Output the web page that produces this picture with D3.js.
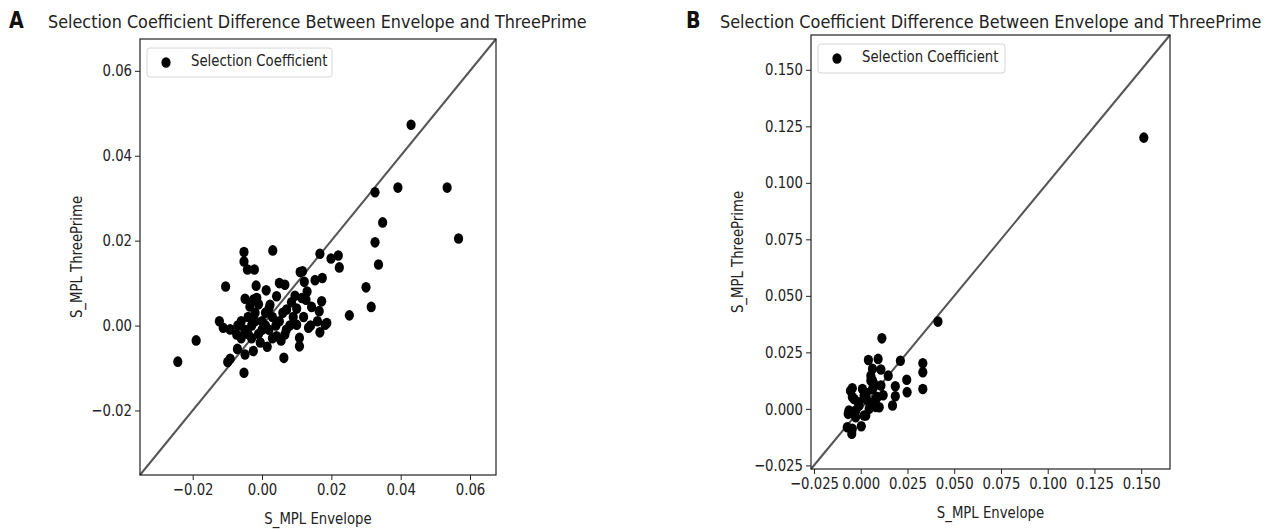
<!DOCTYPE html>
<html>
<head>
<meta charset="utf-8">
<script src="https://cdn.jsdelivr.net/npm/d3@7"></script>
<style>
  body { margin: 0; background: #fff; }
  svg { display: block; font-family: "DejaVu Sans", sans-serif; }
</style>
</head>
<body>
<svg id="chart" width="1273" height="529"></svg>
<script>
"use strict";

// panel A: envelope vs three prime
var envA = [0.0430, 0.0326, 0.0392, 0.0534, 0.0348, 0.0567, 0.0326, 0.0336, -0.0052, -0.0052,
  -0.0042, -0.0022, 0.0031, 0.0167, 0.0199, 0.0220, 0.0223, 0.0110, 0.0117, 0.0300,
  0.0315, 0.0252, 0.0153, 0.0174, 0.0122, 0.0050, 0.0066, -0.0017, 0.0012, -0.0105,
  -0.0049, -0.0025, 0.0042, 0.0023, 0.0115, 0.0127, 0.0172, 0.0143, 0.0165, 0.0182,
  0.0167, 0.0134, 0.0100, 0.0108, 0.0071, 0.0063, 0.0108, 0.0042, 0.0066, -0.0025,
  -0.0052, -0.0049, -0.0071, -0.0092, -0.0099, -0.0190, -0.0243, -0.0123, -0.0112, -0.0092,
  -0.0073, 0.0187, -0.0060, -0.0050, -0.0040, -0.0030, -0.0020, -0.0010, 0.0000, 0.0010,
  0.0020, 0.0030, 0.0040, -0.0030, -0.0020, 0.0000, 0.0010, 0.0020, -0.0040, 0.0050,
  0.0060, 0.0080, 0.0090, 0.0070, -0.0010, 0.0030, 0.0100, 0.0120, 0.0140, 0.0160,
  -0.0060, -0.0070, -0.0005, 0.0015, -0.0035, 0.0085, 0.0055, -0.0015, 0.0130, 0.0095];
var threeA = [0.0473, 0.0314, 0.0325, 0.0325, 0.0243, 0.0205, 0.0196, 0.0144, 0.0173, 0.0151,
  0.0132, 0.0132, 0.0177, 0.0169, 0.0158, 0.0165, 0.0137, 0.0126, 0.0128, 0.0090,
  0.0044, 0.0024, 0.0107, 0.0112, 0.0103, 0.0100, 0.0096, 0.0094, 0.0083, 0.0092,
  0.0063, 0.0061, 0.0069, 0.0049, 0.0065, 0.0061, 0.0057, 0.0044, 0.0034, 0.0002,
  -0.0016, -0.0005, 0.0002, -0.0029, 0.0038, -0.0076, -0.0049, -0.0025, -0.0021, -0.0060,
  -0.0111, -0.0068, -0.0055, -0.0078, -0.0086, -0.0035, -0.0085, 0.0010, -0.0005, -0.0009,
  -0.0021, 0.0006, 0.0010, -0.0010, 0.0020, 0.0000, 0.0030, -0.0020, 0.0010, 0.0030,
  -0.0010, 0.0020, 0.0000, -0.0030, 0.0010, -0.0010, 0.0000, 0.0040, -0.0020, 0.0010,
  0.0030, 0.0000, 0.0020, -0.0010, 0.0050, -0.0030, 0.0040, 0.0020, 0.0000, 0.0010,
  -0.0030, 0.0000, -0.0040, -0.0050, 0.0045, 0.0055, -0.0035, 0.0065, 0.0080, 0.0070];

// panel B
var envB = [0.1514, 0.0413, 0.0113, 0.0041, 0.0093, 0.0212, 0.0332, 0.0332, 0.0332, 0.0246,
  0.0248, 0.0185, 0.0185, 0.0170, 0.0147, 0.0108, 0.0063, 0.0054, 0.0054, 0.0108,
  -0.0045, 0.0009, -0.0045, 0.0089, 0.0081, 0.0045, 0.0018, -0.0009, -0.0027, -0.0067,
  0.0018, 0.0003, -0.0072, -0.0045, -0.0048, 0.0063, 0.0063, -0.0036, 0.0027, 0.0081,
  -0.0063, 0.0045, 0.0099, -0.0027, 0.0027, 0.0030, -0.0015, 0.0070, 0.0120, -0.0055];
var threeB = [0.1200, 0.0386, 0.0312, 0.0216, 0.0221, 0.0213, 0.0202, 0.0162, 0.0088, 0.0129,
  0.0074, 0.0100, 0.0056, 0.0015, 0.0147, 0.0174, 0.0177, 0.0147, 0.0125, 0.0103,
  0.0091, 0.0088, 0.0052, 0.0052, 0.0008, 0.0030, 0.0059, 0.0015, -0.0007, -0.0022,
  -0.0029, -0.0077, -0.0081, -0.0088, -0.0110, 0.0125, 0.0088, 0.0044, 0.0044, 0.0044,
  -0.0007, 0.0000, 0.0007, -0.0037, -0.0029, 0.0070, 0.0030, 0.0110, 0.0060, 0.0080];

var ticksA = [-0.02, 0, 0.02, 0.04, 0.06];
var ticksB = [-0.025, 0, 0.025, 0.05, 0.075, 0.1, 0.125, 0.15];

var titleText = "Selection Coefficient Difference Between Envelope and ThreePrime";
var legendText = "Selection Coefficient";

var svg = d3.select("#chart");
var minus = function(s) { return s.replace("-", "\u2212"); };

function panel(cfg) {
  var x = d3.scaleLinear().domain(cfg.dom).range([cfg.left, cfg.right]);
  var y = d3.scaleLinear().domain(cfg.dom).range([cfg.bottom, cfg.top]);
  var g = svg.append("g");

  // diagonal
  g.append("line")
    .attr("x1", x(cfg.dom[0])).attr("y1", y(cfg.dom[0]))
    .attr("x2", x(cfg.dom[1])).attr("y2", y(cfg.dom[1]))
    .attr("stroke", "#555").attr("stroke-width", 2);

  g.selectAll("ellipse.pt")
    .data(cfg.xs.map(function(v, i) { return [v, cfg.ys[i]]; }))
    .enter().append("ellipse")
    .attr("class", "pt")
    .attr("cx", function(d) { return x(d[0]); })
    .attr("cy", function(d) { return y(d[1]); })
    .attr("rx", 4.6).attr("ry", 5.3)
    .attr("fill", "#000");

  var fmt = d3.format(cfg.fmt);
  var xa = g.append("g").attr("transform", "translate(0," + cfg.bottom + ")")
    .call(d3.axisBottom(x).tickValues(cfg.ticks).tickSize(5).tickPadding(4)
      .tickFormat(function(d) { return minus(fmt(d)); }));
  var ya = g.append("g").attr("transform", "translate(" + cfg.left + ",0)")
    .call(d3.axisLeft(y).tickValues(cfg.ticks).tickSize(5).tickPadding(3)
      .tickFormat(function(d) { return minus(fmt(d)); }));
  [xa, ya].forEach(function(a) {
    a.select(".domain").remove();
    a.selectAll("line").attr("stroke", "#222");
    a.selectAll("text").attr("font-size", 16).attr("fill", "#222")
      .attr("font-family", "DejaVu Sans");
  });

  g.append("rect")
    .attr("x", cfg.left).attr("y", cfg.top)
    .attr("width", cfg.right - cfg.left).attr("height", cfg.bottom - cfg.top)
    .attr("fill", "none").attr("stroke", "#222").attr("stroke-width", 1.2);

  // legend
  var L = cfg.legend;
  g.append("rect")
    .attr("x", L[0]).attr("y", L[1]).attr("width", L[2]).attr("height", L[3])
    .attr("rx", 3).attr("fill", "#fff").attr("fill-opacity", 0.85)
    .attr("stroke", "#d6d6d6");
  g.append("ellipse")
    .attr("cx", L[0] + 19).attr("cy", L[1] + L[3] / 2)
    .attr("rx", 4.6).attr("ry", 5.3).attr("fill", "#000");
  g.append("text")
    .attr("x", L[0] + 44).attr("y", L[1] + 18)
    .attr("font-size", 16).attr("fill", "#222")
    .text(legendText);

  g.append("text")
    .attr("x", (cfg.left + cfg.right) / 2).attr("y", cfg.xlabY)
    .attr("text-anchor", "middle").attr("font-size", 16).attr("fill", "#222")
    .text("S_MPL Envelope");
  g.append("text")
    .attr("transform", "translate(" + cfg.ylabX + "," + (cfg.top + cfg.bottom) / 2 + ") rotate(-90)")
    .attr("text-anchor", "middle").attr("font-size", 16).attr("fill", "#222")
    .text("S_MPL ThreePrime");

  g.append("text")
    .attr("x", cfg.letterX).attr("y", 28.5)
    .attr("font-size", 23).attr("font-weight", "bold").attr("fill", "#111")
    .text(cfg.letter);
  g.append("text")
    .attr("x", cfg.titleX).attr("y", 28)
    .attr("data-w", cfg.titleW)
    .attr("font-size", 18.5).attr("fill", "#222")
    .text(titleText);
}

panel({
  letter: "A", letterX: 9, titleX: 48, titleW: 539,
  xs: envA, ys: threeA,
  left: 140, right: 496, top: 39, bottom: 475,
  dom: [-0.0352, 0.0675], ticks: ticksA, fmt: ".2f",
  legend: [147, 48, 185, 29], xlabY: 524, ylabX: 82
});

panel({
  letter: "B", letterX: 686, titleX: 720, titleW: 542,
  xs: envB, ys: threeB,
  left: 811, right: 1170, top: 35, bottom: 469,
  dom: [-0.0266, 0.1654], ticks: ticksB, fmt: ".3f",
  legend: [818, 44, 187, 29], xlabY: 518, ylabX: 743
});

// matplotlib text in the reference is narrower than DejaVu: squeeze each text
// horizontally around its own anchor point
svg.selectAll("text").each(function() {
  var t = d3.select(this);
  var len = this.getComputedTextLength();
  var sx = t.attr("data-w") ? +t.attr("data-w") / len : 0.83;
  var x0 = +t.attr("x") || 0;
  var tr = t.attr("transform") || "";
  t.attr("transform", tr + " translate(" + x0 + ",0) scale(" + sx + ",1) translate(" + (-x0) + ",0)");
});
</script>
</body>
</html>
